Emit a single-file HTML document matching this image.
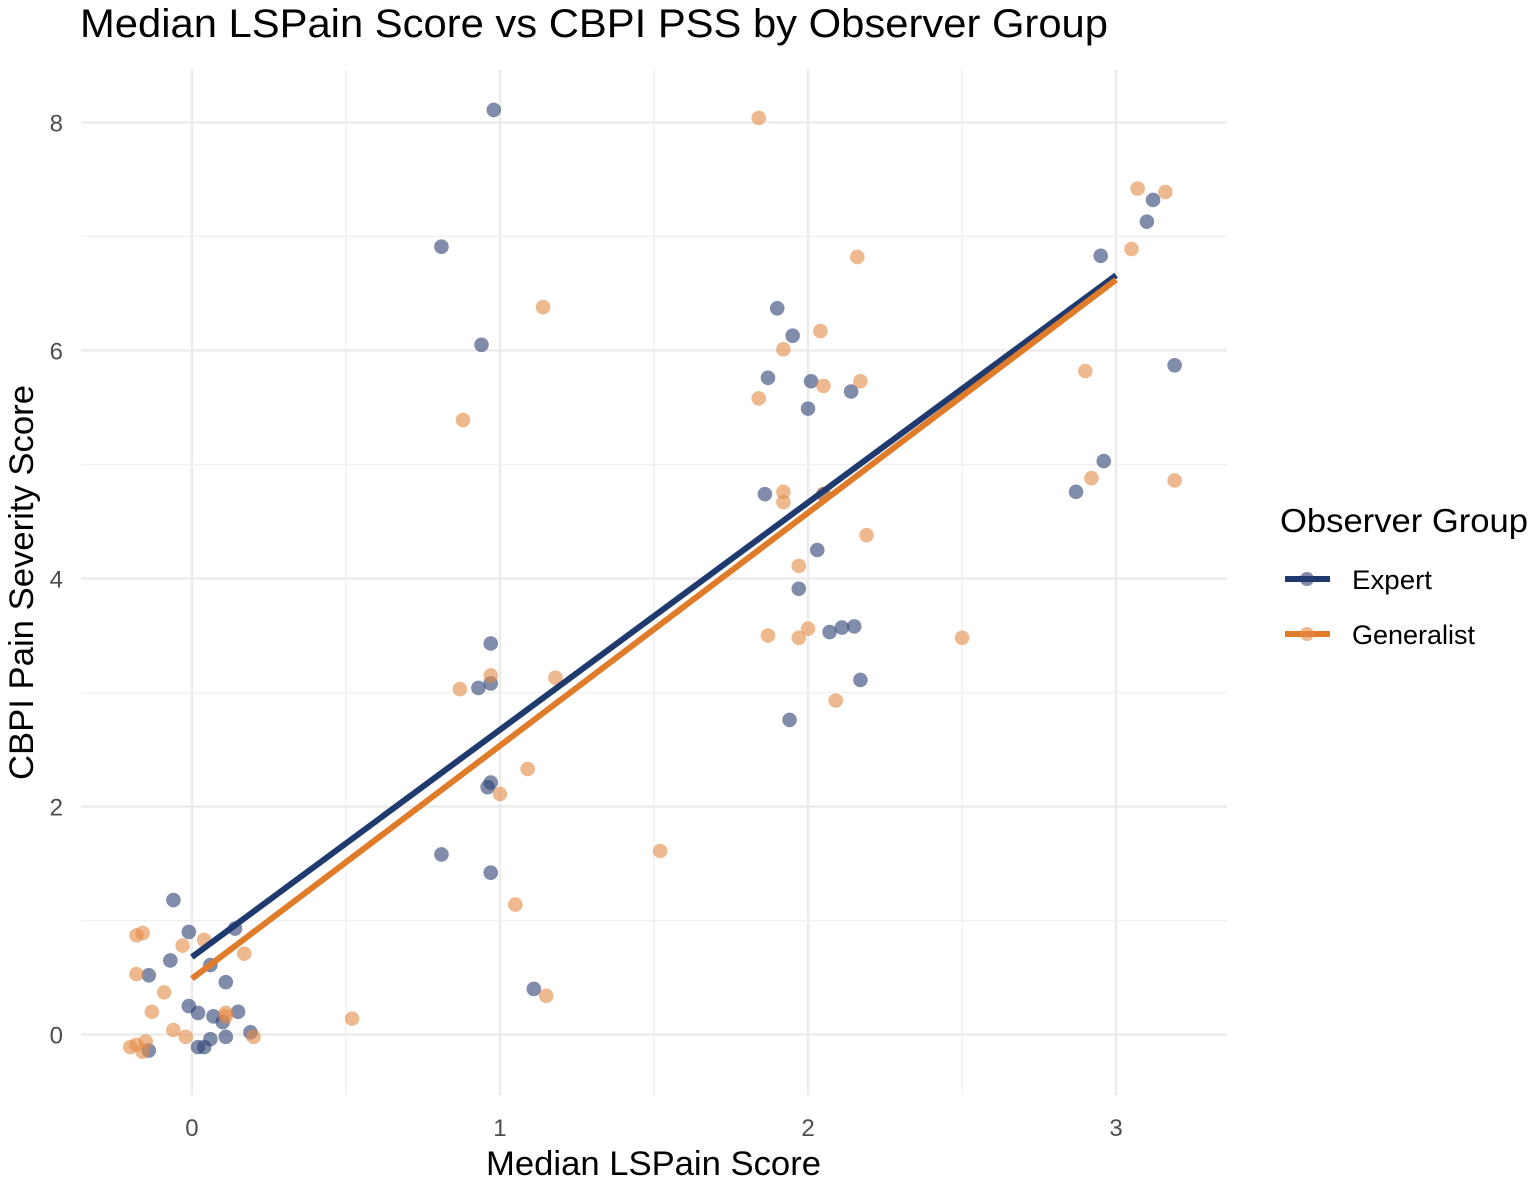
<!DOCTYPE html>
<html><head><meta charset="utf-8"><style>
body{margin:0;background:#fff;}
svg{display:block;font-family:"Liberation Sans",Arial,sans-serif;}
</style></head><body>
<svg id="chart" width="1536" height="1183" viewBox="0 0 1536 1183">
<text x="80" y="37" font-size="40" textLength="1028" lengthAdjust="spacingAndGlyphs" fill="#000">Median LSPain Score vs CBPI PSS by Observer Group</text>
<g id="grid"></g>
<g id="ticks"></g>
<g id="marks"></g>
<g id="lines"></g>
<text x="486" y="1175" font-size="34" textLength="335" lengthAdjust="spacingAndGlyphs" fill="#000">Median LSPain Score</text>
<text transform="translate(33,780) rotate(-90)" font-size="34" textLength="395" lengthAdjust="spacingAndGlyphs" fill="#000">CBPI Pain Severity Score</text>
<g>
<text x="1280" y="532" font-size="33" textLength="248" lengthAdjust="spacingAndGlyphs" fill="#000">Observer Group</text>
<g>
<line x1="1285" y1="579" x2="1330" y2="579" stroke="#1f3a6e" stroke-width="6"/>
<circle cx="1307" cy="579" r="7" fill="#2b3f72" fill-opacity="0.6"/>
<text x="1352" y="589" font-size="27" textLength="80" lengthAdjust="spacingAndGlyphs" fill="#000">Expert</text></g>
<g>
<line x1="1285" y1="634" x2="1330" y2="634" stroke="#e07b29" stroke-width="6"/>
<circle cx="1307" cy="634" r="7" fill="#e58a45" fill-opacity="0.6"/>
<text x="1352" y="644" font-size="27" fill="#000">Generalist</text></g>
</g>
</svg>
<script>
const xTicks=[0,1,2,3];
const yTicks=[0,2,4,6,8];
const expertX=[-0.06,-0.01,0.14,-0.07,0.06,-0.14,0.11,-0.01,0.02,0.07,0.10,0.15,0.19,0.06,0.11,0.02,0.04,-0.14,
0.98,0.81,0.94,0.97,0.93,0.97,0.97,0.96,0.81,0.97,1.11,1.90,1.95,1.87,2.01,2.00,2.14,1.86,2.05,2.03,1.97,2.07,2.11,2.15,2.17,1.94,2.95,3.12,3.10,3.19,2.96,2.87];
const expertY=[1.18,0.90,0.93,0.65,0.61,0.52,0.46,0.25,0.19,0.16,0.11,0.20,0.02,-0.04,-0.02,-0.11,-0.11,-0.14,
8.11,6.91,6.05,3.43,3.04,3.08,2.21,2.17,1.58,1.42,0.40,6.37,6.13,5.76,5.73,5.49,5.64,4.74,4.74,4.25,3.91,3.53,3.57,3.58,3.11,2.76,6.83,7.32,7.13,5.87,5.03,4.76];
const generalistX=[-0.18,-0.16,-0.03,0.04,0.17,-0.18,-0.09,-0.13,0.11,0.11,-0.06,-0.02,0.20,-0.20,-0.18,-0.15,-0.16,0.52,
1.84,1.14,0.88,0.97,0.87,1.18,1.09,1.00,1.52,1.05,1.15,2.16,2.04,1.92,2.05,2.17,1.84,1.92,1.92,2.05,2.19,1.97,1.87,2.00,1.97,2.50,2.09,3.07,3.16,3.05,2.90,2.92,3.19];
const generalistY=[0.87,0.89,0.78,0.83,0.71,0.53,0.37,0.20,0.19,0.16,0.04,-0.02,-0.02,-0.11,-0.09,-0.06,-0.15,0.14,
8.04,6.38,5.39,3.15,3.03,3.13,2.33,2.11,1.61,1.14,0.34,6.82,6.17,6.01,5.69,5.73,5.58,4.76,4.67,4.74,4.38,4.11,3.50,3.56,3.48,3.48,2.93,7.42,7.39,6.89,5.82,4.88,4.86];
const expertLine=[[0,0.68],[3,6.66]];
const generalistLine=[[0,0.49],[3,6.62]];

const NS="http://www.w3.org/2000/svg";
const X0=81,X1=1227,Y0=70,Y1=1095;
const xmin=-0.36,xmax=3.36,ymin=-0.53,ymax=8.46;
const sx=v=>X0+(v-xmin)/(xmax-xmin)*(X1-X0);
const sy=v=>Y1-(v-ymin)/(ymax-ymin)*(Y1-Y0);
function mk(tag,attrs,parent){const e=document.createElementNS(NS,tag);for(const k in attrs)e.setAttribute(k,attrs[k]);parent.appendChild(e);return e;}
const grid=document.getElementById('grid'),ticks=document.getElementById('ticks'),marks=document.getElementById('marks'),lines=document.getElementById('lines');
for(let i=0;i<xTicks.length;i++){
 const v=xTicks[i];
 const g=mk('line',{x1:sx(v),x2:sx(v),y1:Y0,y2:Y1,stroke:'#ebebeb','stroke-width':2.4},grid);
 
 
 if(i<xTicks.length-1){const m=mk('line',{x1:sx(v+0.5),x2:sx(v+0.5),y1:Y0,y2:Y1,stroke:'#f0f0f0','stroke-width':1.4},grid);
 
 }
 const t=mk('text',{x:sx(v),y:1136,'font-size':24,'text-anchor':'middle',fill:'#4d4d4d'},ticks);t.textContent=v;
 
 
}
for(let i=0;i<yTicks.length;i++){
 const v=yTicks[i];
 const g=mk('line',{x1:X0,x2:X1,y1:sy(v),y2:sy(v),stroke:'#ebebeb','stroke-width':2.4},grid);
 
 
 if(i<yTicks.length-1){const m=mk('line',{x1:X0,x2:X1,y1:sy(v+1),y2:sy(v+1),stroke:'#f0f0f0','stroke-width':1.4},grid);
 
 }
 const t=mk('text',{x:63,y:sy(v)+9,'font-size':24,'text-anchor':'end',fill:'#4d4d4d'},ticks);t.textContent=v;
 
 
}
function pts(xs,ys,fill,name){for(let i=0;i<xs.length;i++){
 const c=mk('circle',{cx:sx(xs[i]),cy:sy(ys[i]),r:7.3,fill:fill,'fill-opacity':0.6},marks);
 
 }}
pts(expertX,expertY,'#2b3f72','expert-point');
pts(generalistX,generalistY,'#e58a45','generalist-point');
const l1=mk('line',{x1:sx(expertLine[0][0]),y1:sy(expertLine[0][1]),x2:sx(expertLine[1][0]),y2:sy(expertLine[1][1]),stroke:'#1f3a6e','stroke-width':6},lines);


const l2=mk('line',{x1:sx(generalistLine[0][0]),y1:sy(generalistLine[0][1]),x2:sx(generalistLine[1][0]),y2:sy(generalistLine[1][1]),stroke:'#e07b29','stroke-width':6},lines);


</script>
</body></html>
